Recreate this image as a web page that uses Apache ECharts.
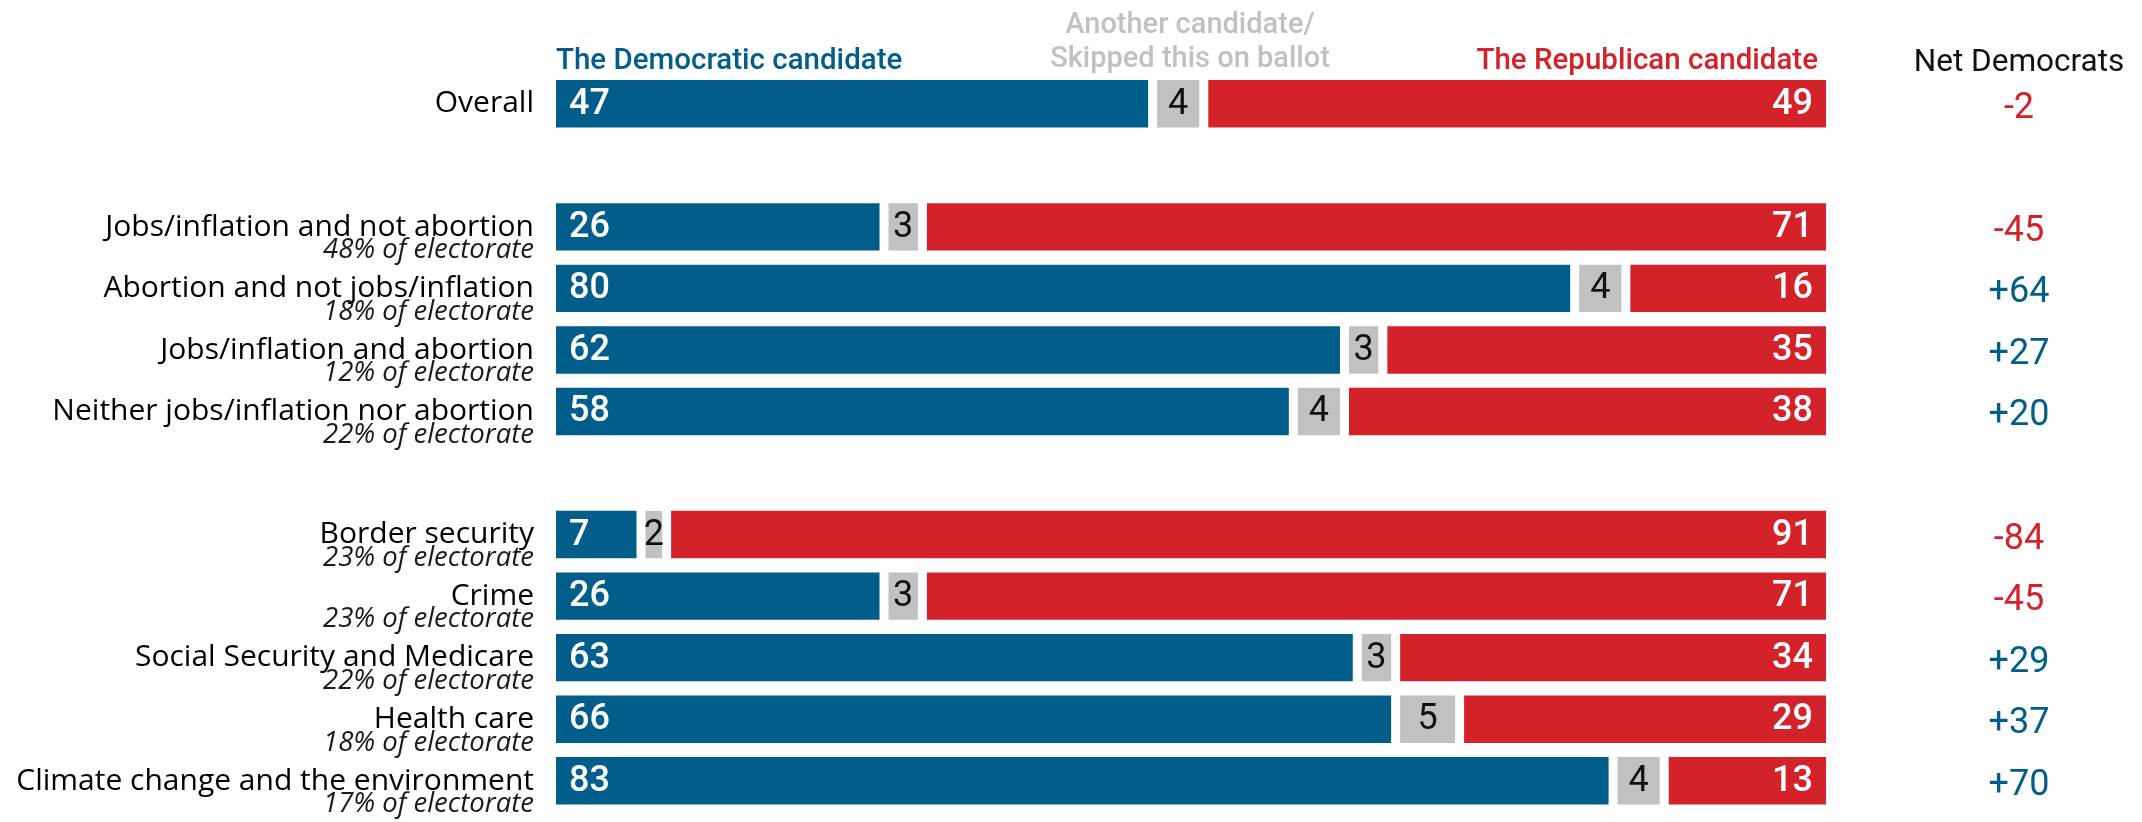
<!DOCTYPE html>
<html>
<head>
<meta charset="utf-8">
<script src="https://cdn.jsdelivr.net/npm/echarts@6/dist/echarts.min.js"></script>
<style>
html,body{margin:0;padding:0;background:#fff;}
#chart{width:2142px;height:822px;}
</style>
</head>
<body>
<div id="chart"></div>
<script>
// ---- data ----
const categories = ['Overall', '', 'Jobs/inflation and not abortion', 'Abortion and not jobs/inflation', 'Jobs/inflation and abortion', 'Neither jobs/inflation nor abortion', '', 'Border security', 'Crime', 'Social Security and Medicare', 'Health care', 'Climate change and the environment'];
const subtitles = ['', '', '48% of electorate', '18% of electorate', '12% of electorate', '22% of electorate', '', '23% of electorate', '23% of electorate', '22% of electorate', '18% of electorate', '17% of electorate'];
const democrat = [47, null, 26, 80, 62, 58, null, 7, 26, 63, 66, 83];
const other = [4, null, 3, 4, 3, 4, null, 2, 3, 3, 5, 4];
const republican = [49, null, 71, 16, 35, 38, null, 91, 71, 34, 29, 13];
const netDemocrats = ['-2', '', '-45', '+64', '+27', '+20', '', '-84', '-45', '+29', '+37', '+70'];
const headerDem = 'The Democratic candidate';
const headerOther = ['Another candidate/', 'Skipped this on ballot'];
const headerRep = 'The Republican candidate';
const headerNet = 'Net Democrats';

const BLUE = '#015e8b', RED = '#d3222a', GRAY = '#c1c1c1';
const NUMFONT = 'Roboto';
const LABFONT = '"Open Sans"';
const INSET = 4.5;

// segments [start, end, categoryIndex, value]
const demData = [], otherData = [], repData = [];
categories.forEach((c, i) => {
  if (democrat[i] == null) return;
  const a = democrat[i], b = a + other[i], e = b + republican[i];
  demData.push([0, a, i, democrat[i]]);
  otherData.push([a, b, i, other[i]]);
  repData.push([b, e, i, republican[i]]);
});

function makeRender(kind) {
  return function (params, api) {
    const cat = api.value(2);
    const p0 = api.coord([api.value(0), cat]);
    const p1 = api.coord([api.value(1), cat]);
    const h = api.size([0, 1])[1] * 0.77;
    const x = p0[0] + INSET;
    const w = p1[0] - p0[0] - 2 * INSET;
    const color = kind === 'dem' ? BLUE : (kind === 'rep' ? RED : GRAY);
    let tx, align, fill;
    if (kind === 'dem') { tx = x + 13; align = 'left'; fill = '#fff'; }
    else if (kind === 'rep') { tx = x + w - 13; align = 'right'; fill = '#fff'; }
    else { tx = x + w / 2; align = 'center'; fill = '#111'; }
    return {
      type: 'group',
      children: [
        { type: 'rect', shape: { x: x, y: p0[1] - h / 2, width: w, height: h }, style: { fill: color } },
        { type: 'text', x: tx, y: p0[1] + 1, style: { text: String(api.value(3)), fill: fill, align: align, verticalAlign: 'middle', font: (kind === 'other' ? '400' : '500') + ' 36px ' + NUMFONT } }
      ]
    };
  };
}

const chart = echarts.init(document.getElementById('chart'), null, { renderer: 'canvas' });
chart.setOption({
  animation: false,
  backgroundColor: '#fff',
  grid: { left: 551.5, right: 311.5, top: 73, bottom: 10.5 },
  xAxis: { type: 'value', min: 0, max: 100, show: false },
  yAxis: [{
    type: 'category', data: categories, inverse: true,
    axisLine: { show: false }, axisTick: { show: false }, splitLine: { show: false },
    axisLabel: {
      margin: 17.5, align: 'right', interval: 0,
      formatter: function (v, i) {
        if (!v) return '';
        if (!subtitles[i]) return '{a|' + v + '}';
        return '{s| }\n{a|' + v + '}\n{b|' + subtitles[i] + '}';
      },
      rich: {
        s: { fontSize: 1, lineHeight: 21 },
        a: { fontFamily: LABFONT, fontSize: 30, fontWeight: 500, color: '#000', lineHeight: 26, align: 'right' },
        b: { fontFamily: LABFONT, fontSize: 27.5, fontWeight: 400, fontStyle: 'italic', color: '#1a1a1a', lineHeight: 20.5, align: 'right' }
      }
    }
  }, {
    type: 'category', data: categories, inverse: true, position: 'right',
    axisLine: { show: false }, axisTick: { show: false }, splitLine: { show: false },
    axisLabel: {
      margin: 188.5, align: 'center', interval: 0,
      formatter: function (v, i) {
        const n = netDemocrats[i];
        if (!n) return '';
        return (n.charAt(0) === '-' ? '{neg|' : '{pos|') + n + '}';
      },
      rich: {
        neg: { fontFamily: NUMFONT, fontSize: 36, fontWeight: 400, color: RED, padding: [10, 0, 0, 0] },
        pos: { fontFamily: NUMFONT, fontSize: 36, fontWeight: 400, color: BLUE, padding: [10, 0, 0, 0] }
      }
    }
  }],
  series: [
    { type: 'custom', name: 'The Democratic candidate', renderItem: makeRender('dem'), encode: { x: [0, 1], y: 2 }, data: demData },
    { type: 'custom', name: 'Another candidate', renderItem: makeRender('other'), encode: { x: [0, 1], y: 2 }, data: otherData },
    { type: 'custom', name: 'The Republican candidate', renderItem: makeRender('rep'), encode: { x: [0, 1], y: 2 }, data: repData }
  ],
  graphic: [
    { type: 'text', x: 556, y: 62, style: { text: headerDem, fill: BLUE, align: 'left', verticalAlign: 'middle', font: '500 29.5px ' + NUMFONT } },
    { type: 'text', x: 1190, y: 26, style: { text: headerOther[0], fill: GRAY, align: 'center', verticalAlign: 'middle', font: '500 29px ' + NUMFONT } },
    { type: 'text', x: 1190, y: 60, style: { text: headerOther[1], fill: GRAY, align: 'center', verticalAlign: 'middle', font: '500 29px ' + NUMFONT } },
    { type: 'text', x: 1818, y: 62, style: { text: headerRep, fill: RED, align: 'right', verticalAlign: 'middle', font: '500 29.5px ' + NUMFONT } },
    { type: 'text', x: 2019, y: 63, style: { text: headerNet, fill: '#111', align: 'center', verticalAlign: 'middle', font: '400 31.5px ' + NUMFONT } }
  ]
});
</script>
</body>
</html>
